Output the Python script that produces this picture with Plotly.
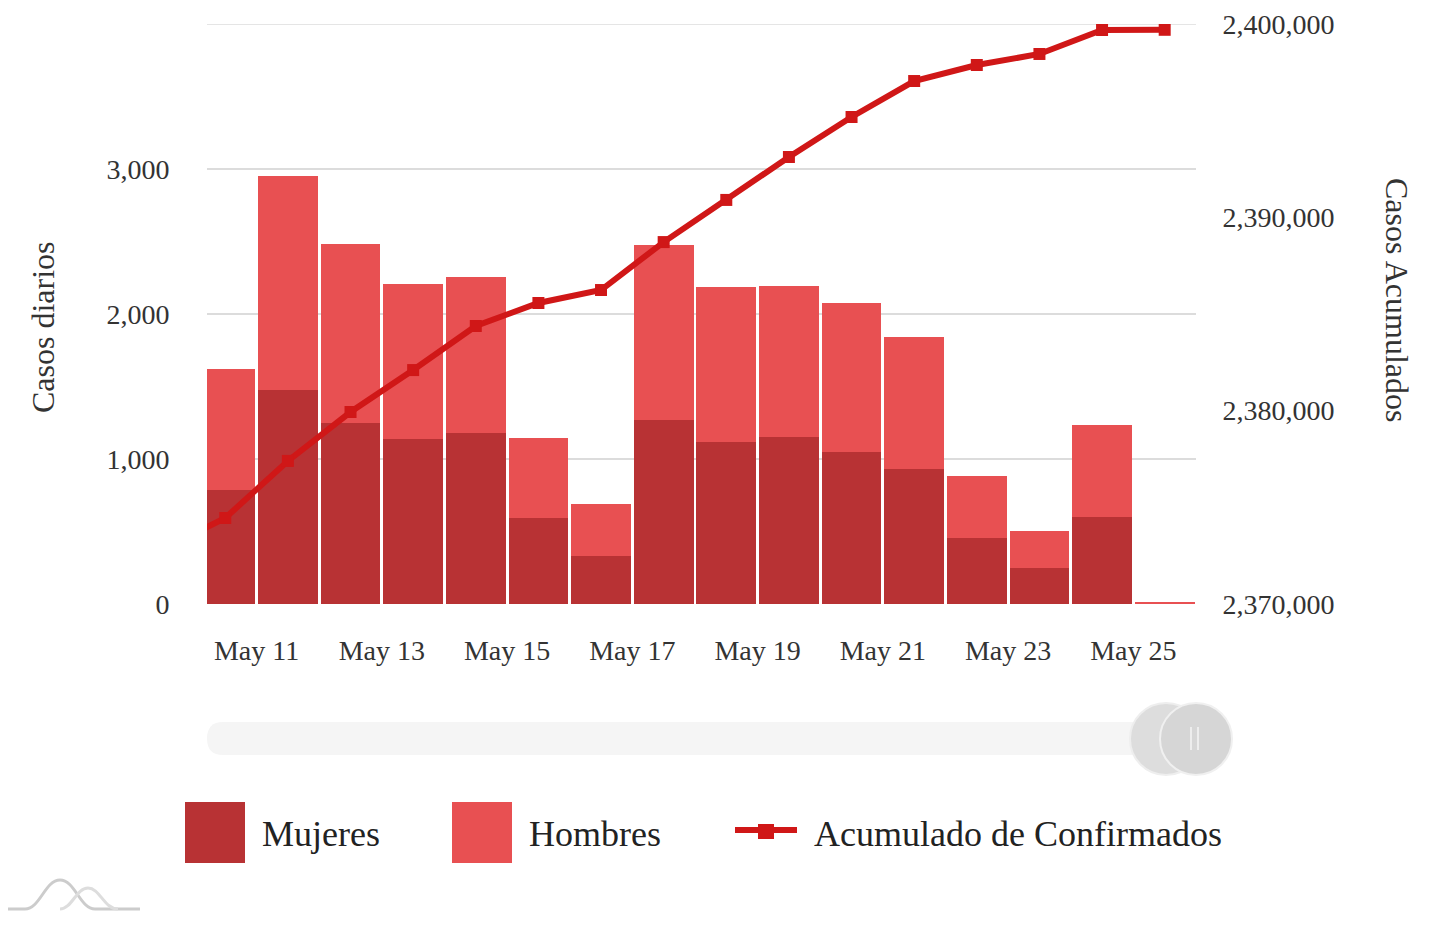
import pandas as pd
import plotly.graph_objects as go

# ---- data ----
dates = ["2020-05-10", "2020-05-11", "2020-05-12", "2020-05-13", "2020-05-14", "2020-05-15",
         "2020-05-16", "2020-05-17", "2020-05-18", "2020-05-19", "2020-05-20", "2020-05-21",
         "2020-05-22", "2020-05-23", "2020-05-24", "2020-05-25"]
mujeres = [786, 1476, 1248, 1138, 1179, 593, 331, 1269, 1117, 1152, 1048, 931, 455, 248, 600, 0]
hombres = [835, 1476, 1235, 1069, 1076, 552, 359, 1207, 1069, 1041, 1028, 910, 428, 255, 634, 10]
acum_dates = ["2020-05-09"] + dates
acumulado = [2372830, 2374450, 2377400, 2379930, 2382100, 2384380, 2385570, 2386240, 2388720,
             2390900, 2393120, 2395190, 2397050, 2397880, 2398450, 2399690, 2399700]
y_ticks = [0, 1000, 2000, 3000, 4000]
y_ticktext = ["0", "1,000", "2,000", "3,000", ""]
y2_ticks = [2370000, 2380000, 2390000, 2400000]

FONT = "Liberation Serif"
C_MUJ = "#b83234"
C_HOM = "#e85052"
C_LINE = "#d01717"
TXT = "#333333"
GRID = "#dcdcdc"

half_day = pd.Timedelta(hours=12)
x_bars = pd.to_datetime(dates) + half_day
x_line = pd.to_datetime(acum_dates) + half_day

fig = go.Figure()
fig.add_trace(go.Bar(x=x_bars, y=mujeres, name="Mujeres", marker=dict(color=C_MUJ, line=dict(width=0)),
                     yaxis="y"))
fig.add_trace(go.Bar(x=x_bars, y=hombres, name="Hombres", marker=dict(color=C_HOM, line=dict(width=0)),
                     yaxis="y"))
fig.add_trace(go.Scatter(x=x_line, y=acumulado, name="Acumulado de Confirmados", mode="lines+markers",
                         line=dict(color=C_LINE, width=6), marker=dict(symbol="square", size=12, color=C_LINE),
                         yaxis="y2", cliponaxis=True))

# page body has an 8px margin: plot area on screen is x 207..1196, y 24..604
fig.update_layout(
    width=1449, height=929,
    margin=dict(l=199, r=261, t=16, b=333, autoexpand=False),
    barmode="stack", bargap=0.045,
    plot_bgcolor="white", paper_bgcolor="white",
    showlegend=False,
    font=dict(family=FONT, size=28, color=TXT),
    xaxis=dict(type="date", range=["2020-05-10 05:00", "2020-05-26 00:00"],
               tick0="2020-05-11", dtick=2 * 86400000, tickformat="%b %d",
               showgrid=False, zeroline=False, showline=False, automargin=False,
               ticks="outside", ticklen=21, tickcolor="rgba(0,0,0,0)",
               tickfont=dict(family=FONT, size=28, color=TXT)),
    yaxis=dict(range=[0, 4000], tickvals=y_ticks, ticktext=y_ticktext,
               showgrid=True, gridcolor=GRID, gridwidth=1.5, zeroline=False, showline=False,
               automargin=False,
               ticks="outside", ticklen=31, tickcolor="rgba(0,0,0,0)",
               tickfont=dict(family=FONT, size=28, color=TXT)),
    yaxis2=dict(range=[2370000, 2400000], tickvals=y2_ticks,
                tickformat=",d", overlaying="y", side="right", showgrid=False, zeroline=False,
                automargin=False,
                ticks="outside", ticklen=20, tickcolor="rgba(0,0,0,0)",
                tickfont=dict(family=FONT, size=28, color=TXT)),
)

# top grid line (plotly drops the grid line lying on the plot edge)
fig.add_shape(type="line", xref="paper", yref="y", x0=0, x1=1, y0=y_ticks[-1], y1=y_ticks[-1],
              line=dict(color=GRID, width=1.5), layer="below")

# pixel (screen) -> paper conversion
PW, PH, L, T = 989, 580, 207, 24
def px(x):
    return (x - L) / PW
def py(y):
    return 1 - (y - T) / PH

# axis titles
fig.add_annotation(text="Casos diarios", xref="paper", yref="paper", x=px(43), y=py(327),
                   xanchor="center", yanchor="middle",
                   textangle=-90, showarrow=False, font=dict(family=FONT, size=32, color=TXT))
fig.add_annotation(text="Casos Acumulados", xref="paper", yref="paper", x=px(1397), y=py(300),
                   xanchor="center", yanchor="middle",
                   textangle=90, showarrow=False, font=dict(family=FONT, size=32, color=TXT))

# scrollbar decoration
fig.add_shape(type="path", xref="paper", yref="paper",
              path=(f"M {px(223)},{py(722)} L {px(1180)},{py(722)} "
                    f"Q {px(1196)},{py(722)} {px(1196)},{py(738.5)} Q {px(1196)},{py(755)} {px(1180)},{py(755)} "
                    f"L {px(223)},{py(755)} Q {px(207)},{py(755)} {px(207)},{py(738.5)} "
                    f"Q {px(207)},{py(722)} {px(223)},{py(722)} Z"),
              fillcolor="#f5f5f5", line=dict(width=0), layer="above")
fig.add_shape(type="circle", xref="paper", yref="paper", x0=px(1130), x1=px(1202), y0=py(775), y1=py(703),
              fillcolor="#dddddd", line=dict(color="#eeeeee", width=2), layer="above")
fig.add_shape(type="circle", xref="paper", yref="paper", x0=px(1160), x1=px(1232), y0=py(775), y1=py(703),
              fillcolor="#d6d6d6", line=dict(color="#f0f0f0", width=2), layer="above")
fig.add_shape(type="line", xref="paper", yref="paper", x0=px(1191), x1=px(1191), y0=py(750), y1=py(727),
              line=dict(color="#f5f5f5", width=1.5), layer="above")
fig.add_shape(type="line", xref="paper", yref="paper", x0=px(1198), x1=px(1198), y0=py(750), y1=py(727),
              line=dict(color="#f5f5f5", width=1.5), layer="above")

# custom legend
legend_items = [("Mujeres", C_MUJ, 185, 260), ("Hombres", C_HOM, 452, 527)]
for name, col, x0, tx in legend_items:
    fig.add_shape(type="rect", xref="paper", yref="paper", x0=px(x0), x1=px(x0 + 60), y0=py(863), y1=py(802),
                  fillcolor=col, line=dict(width=0), layer="above")
    fig.add_annotation(text=name, xref="paper", yref="paper", x=px(tx), y=py(834),
                       xanchor="left", yanchor="middle",
                       showarrow=False, font=dict(family=FONT, size=36, color="#222222"))
fig.add_shape(type="line", xref="paper", yref="paper", x0=px(735), x1=px(797), y0=py(830), y1=py(830),
              line=dict(color=C_LINE, width=6), layer="above")
fig.add_shape(type="rect", xref="paper", yref="paper", x0=px(758), x1=px(774), y0=py(839), y1=py(824),
              fillcolor=C_LINE, line=dict(width=0), layer="above")
fig.add_annotation(text="Acumulado de Confirmados", xref="paper", yref="paper", x=px(812), y=py(834),
                   xanchor="left", yanchor="middle",
                   showarrow=False, font=dict(family=FONT, size=36, color="#222222"))

# amCharts-like logo
logo = "M 0 909 L 25 909 C 40 909 45 880 60 880 C 75 880 80 909 95 909 L 140 909"
logo2 = "M 60 909 C 72 909 76 888 88 888 C 100 888 104 909 118 909"
def to_paper_path(p):
    out = []
    toks = p.split()
    i = 0
    while i < len(toks):
        t = toks[i]
        if t.isalpha():
            out.append(t); i += 1
        else:
            out.append(f"{px(float(toks[i])):.5f},{py(float(toks[i+1])):.5f}"); i += 2
    return " ".join(out)
fig.add_shape(type="path", xref="paper", yref="paper", path=to_paper_path(logo),
              line=dict(color="#cccccc", width=3), layer="above")
fig.add_shape(type="path", xref="paper", yref="paper", path=to_paper_path(logo2),
              line=dict(color="#dddddd", width=3), layer="above")

fig.write_html("out.html")
